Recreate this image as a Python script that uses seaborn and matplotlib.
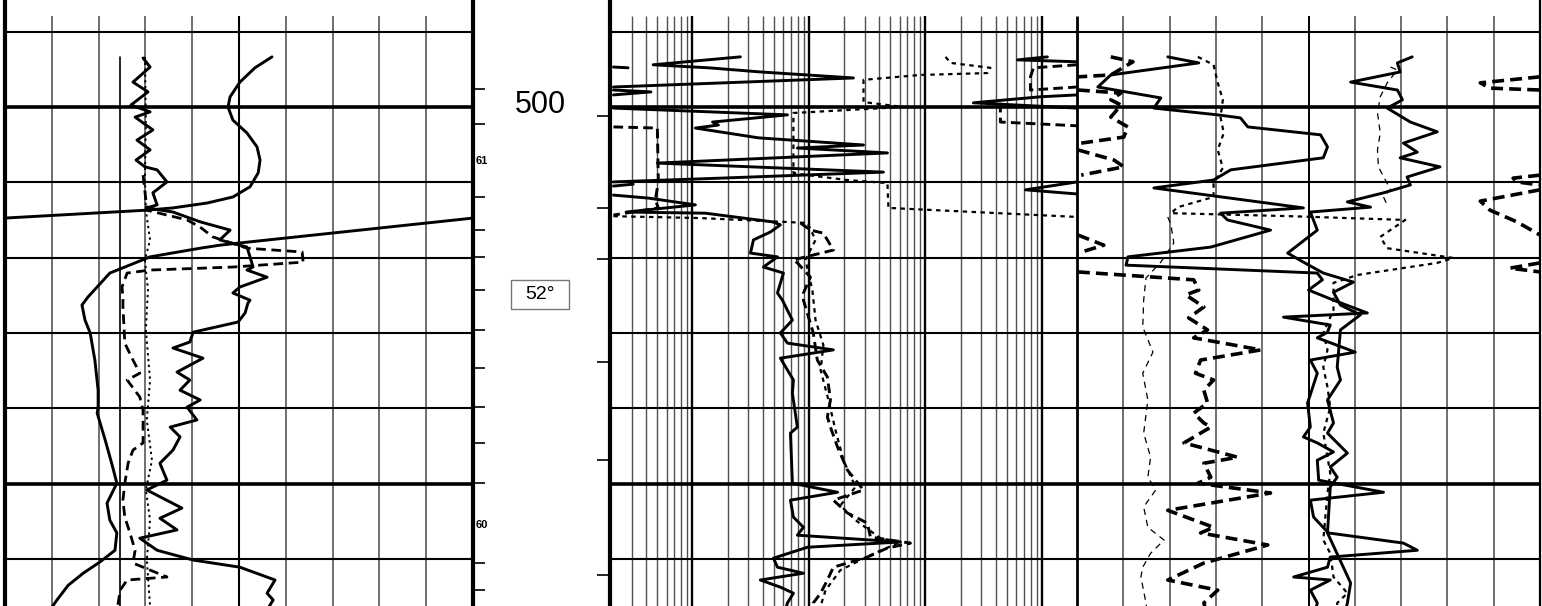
import numpy as np
import pandas as pd
import matplotlib
matplotlib.use("Agg")
import matplotlib.pyplot as plt
import seaborn as sns
from matplotlib.patches import Rectangle

sns.set_theme(style="white")
plt.rcParams["font.family"] = ["Liberation Sans", "DejaVu Sans"]

nan = np.nan

# ---------------- depth frame ----------------
depth_top, depth_bottom = 497.16, 513.25
grid_top = 497.58
grid_depths = [498, 500, 502, 504, 506, 508, 510, 512]
major_depths = [500, 510]
depth_label = "500"
depth_label_at = 499.96
angle_label = "52°"
angle_label_at = 504.98
scale_labels = ["61", "60"]
scale_label_at = [501.43, 511.10]
left_ticks = [499.52, 500.45, 502.39, 503.27, 503.98, 504.86, 505.92, 506.93,
              507.97, 508.92, 509.99, 512.11, 512.83]
right_ticks = [500.24, 502.68, 504.04, 506.77, 509.38, 512.43]

# ---------------- track 1 (linear 0-100) ----------------
t1_res_val = [57.05, 53.4, 50.2, 48.1, 47.65, 48.7, 51.7, 53.85, 54.5, 54.1, 52.35, 48.7, 43.2, 35.9, 30.3, 0.0,
              nan, 100.0, 50.2, 45.9, 41.7, 31.0, 22.4, 17.7, 16.45, 17.1, 18.2, 19.2, 19.9, 19.9, 19.7, 21.4,
              22.9, 23.9, 21.8, 22.4, 23.9, 23.5, 20.3, 16.7, 13.5, 11.1, 9.6]
t1_res_dep = [498.67, 498.96, 499.34, 499.73, 500.0, 500.35, 500.69, 501.06, 501.41, 501.75, 502.12, 502.39, 502.55,
              502.68, 502.74, 502.95, nan, 502.95, 503.61, 503.67, 503.75, 503.98, 504.41, 505.05, 505.26, 505.66,
              506.0, 506.72, 507.52, 507.97, 508.13, 508.84, 509.51, 509.99, 510.52, 510.97, 511.31, 511.77,
              512.08, 512.38, 512.7, 513.09, 513.36]

t1_gr_val = [29.5, 31.0, 27.35, 30.55, 26.9, 31.0, 27.8, 31.6, 28.2, 31.0, 28.0, 29.9, 32.5, 34.6, 31.6, 32.5,
             30.3, 35.9, 41.7, 48.1, 45.9, 51.7, 52.35, 53.0, 51.7, 56.0, 50.2, 48.7, 52.35, 51.9, 51.3, 49.8,
             40.2, 39.5, 35.9, 42.3, 36.75, 39.5, 37.4, 41.7, 38.9, 41.0, 35.3, 37.4, 35.9, 33.1, 34.6, 30.3,
             37.8, 33.1, 36.75, 28.8, 32.5, 40.2, 50.2, 57.7, 56.0, 57.3, 56.2]
t1_gr_dep = [498.70, 498.94, 499.34, 499.60, 499.95, 500.13, 500.27, 500.61, 500.88, 501.14, 501.41, 501.59,
             501.67, 501.99, 502.28, 502.6, 502.68, 502.79, 503.05, 503.27, 503.53, 503.72, 503.98, 504.25,
             504.33, 504.52, 504.78, 504.94, 505.13, 505.21, 505.47, 505.71, 505.98, 506.24, 506.40, 506.67,
             507.04, 507.25, 507.52, 507.78, 507.97, 508.31, 508.5, 508.76, 509.11, 509.46, 509.91, 510.17,
             510.65, 510.92, 511.23, 511.45, 511.77, 512.03, 512.22, 512.56, 512.91, 513.09, 513.31]

t1_dash_val = [29.5, 30.1, 30.3, 38.9, 41.7, 44.4, 51.7, 63.5, 63.7, 48.7, 31.0, 26.1, 25.0, 25.2, 25.2, 25.6,
               27.35, 28.8, 26.1, 28.8, 29.5, 29.5, 27.35, 26.3, 25.6, 25.2, 25.6, 26.7, 27.8, 27.35, 34.6,
               26.1, 24.6, 24.1]
t1_dash_dep = [501.81, 502.47, 502.74, 503.0, 503.19, 503.45, 503.75, 503.85, 504.12, 504.25, 504.33, 504.41,
               504.78, 505.05, 505.31, 506.27, 506.72, 507.07, 507.25, 507.7, 508.05, 508.92, 509.11, 509.46,
               509.99, 510.44, 510.89, 511.31, 511.77, 512.11, 512.48, 512.56, 512.83, 513.25]

t1_dot_val = [29.9, 30.1, 29.9, 30.1, 31.0, 29.9, 30.55, 30.1, 31.0, 30.3, 31.4, 30.1, 31.0, 30.3, 31.0]
t1_dot_dep = [498.67, 500.35, 501.94, 502.74, 503.53, 504.06, 504.86, 505.92, 507.25, 508.31, 509.38, 510.17,
              510.97, 512.03, 513.25]

t1_bit_val = [24.6, 24.6]
t1_bit_dep = [498.67, 513.36]

# ---------------- track 2 (log 0.2-2000) ----------------
t2_deep_val = [0.21, 0.28, nan,
               2.58, 0.46, 1.37, 3.83, 24.1, 0.21, nan,
               0.21, 0.44, 0.21, nan,
               0.21, 6.54, 1.49, 1.67, 1.06, 3.69, 29.4, 7.96, 47.2, 0.50, 43.6, 1.74, 0.21, nan,
               0.31, 0.21, nan,
               0.21, 0.42, 1.06, 0.27, 1.29, 4.86, 5.69, 4.67, 3.34, 3.15, 5.37, 4.07, 6.04, 5.37, 5.92, 7.21,
               5.69, 6.54, 16.2, 5.69, 7.36, 7.21, 7.96, 6.94, 7.21, 17.6, 6.94, 7.36, 8.97, 7.96, 61.0, 9.71,
               4.96, 5.37, 8.97, 3.83, 5.69, 7.36, 6.54, 6.28, nan,
               1114, 617, 2000, nan,
               2000, 971, 258, 2000, nan,
               2000, 724, 2000]
t2_deep_dep = [498.94, 498.96, nan,
               498.67, 498.88, 498.96, 499.07, 499.23, 499.47, nan,
               499.55, 499.60, 499.68, nan,
               500.03, 500.21, 500.40, 500.48, 500.56, 500.82, 501.01, 501.09, 501.22, 501.49, 501.73, 501.89,
               501.99, nan,
               502.05, 502.10, nan,
               502.34, 502.42, 502.60, 502.79, 502.82, 503.05, 503.13, 503.32, 503.53, 503.88, 503.98, 504.25,
               504.41, 504.94, 505.13, 505.66, 506.0, 506.27, 506.45, 506.67, 507.25, 507.60, 508.50, 508.66,
               509.99, 510.23, 510.44, 510.89, 511.16, 511.37, 511.55, 511.69, 511.98, 512.22, 512.38, 512.56,
               512.75, 512.91, 513.17, 513.36, nan,
               498.67, 498.75, 498.80, nan,
               499.68, 499.73, 499.89, 500.03, nan,
               501.99, 502.20, 502.31]

t2_med_val = [2000, 846, 797, 797, 2000, nan,
              440, 440, 2000, nan,
              0.21, 0.50, 0.51, 0.48, 0.51, 0.21, nan,
              8.45, 10.3, 13.3, 16.2, 7.36, 7.96, 10.3, 8.97, 8.97, 10.9, 11.8, 14.4, 15.3, 14.4, 15.3, 17.6,
              21.4, 29.4, 16.2, 21.4, 31.8, 33.7, 74.3, 47.2, 31.8, 16.2, 14.4, 12.6, 10.9, 10.7]
t2_med_dep = [498.88, 498.96, 499.20, 499.55, 499.47, nan,
              499.89, 500.40, 500.50, nan,
              500.53, 500.56, 501.99, 502.47, 502.68, 502.87, nan,
              503.08, 503.27, 503.35, 503.80, 504.06, 504.14, 504.52, 504.94, 505.13, 506.0, 506.72, 507.17,
              507.78, 508.23, 508.50, 509.03, 509.64, 510.17, 510.44, 510.78, 511.05, 511.42, 511.58, 511.71,
              511.95, 512.22, 512.56, 512.91, 513.17, 513.36]

t2_shal_val = [149, 164, 361, 340, 90.6, 29.4, 29.4, 64.7, 7.36, 7.36, 9.71, 21.4, 47.2, 48.1, 2000, nan,
               0.21, 1.17, 9.71, 11.4, 9.33, 10.7, 11.4, 13.3, 12.6, 14.7, 16.9, 19.8, 25.1, 18.6, 25.1, 41.1,
               61.0, 33.7, 18.6, 13.9, 12.6]
t2_shal_dep = [498.67, 498.83, 498.96, 499.10, 499.15, 499.28, 499.87, 500.0, 500.16, 501.75, 501.81, 501.94,
               502.02, 502.68, 502.92, nan,
               502.90, 502.95, 503.08, 503.53, 504.06, 504.86, 505.66, 506.32, 506.99, 507.78, 508.58, 509.38,
               510.09, 510.58, 510.97, 511.45, 511.55, 511.90, 512.30, 512.83, 513.25]

# ---------------- track 3 (linear 0-100) ----------------
t3_a_val = [19.6, 26.3, 7.3, 4.5, 18.1, 16.6, 30.4, 35.3, 36.9, 52.6, 54.1, 53.2, 33.2, 29.5, 16.6, 48.9, 31.0,
            32.5, 41.8, 28.9, 11.0, 10.6, 51.9, 53.0, 50.0, 55.4, 62.7, 44.6, 54.7, 54.1, 51.9, 60.1, 50.4, 51.9,
            49.8, 50.4, 48.9, 51.9, 55.4, 51.9, 52.2, 66.2, 50.4, 51.1, 54.3, 70.5, 73.5, 54.7, 54.1, 46.8, 54.7,
            50.4, 51.9, 51.5]
t3_a_dep = [498.67, 498.83, 499.15, 499.47, 499.76, 500.03, 500.21, 500.29, 500.53, 500.74, 501.06, 501.35,
            501.67, 501.94, 502.15, 502.68, 502.82, 503.0, 503.27, 503.72, 503.98, 504.20, 504.41, 504.59, 504.86,
            505.13, 505.47, 505.58, 505.79, 505.98, 506.13, 506.51, 506.72, 507.07, 507.86, 508.50, 508.76,
            508.92, 509.16, 509.38, 509.91, 510.23, 510.44, 510.89, 511.31, 511.58, 511.77, 511.95, 512.22,
            512.48, 512.56, 512.83, 513.17, 513.36]

t3_b_val = [72.4, 69.2, 69.8, 59.1, 69.2, 70.3, 67.0, 72.0, 77.8, 70.5, 73.5, 69.8, 78.4, 71.3, 72.0, 66.2, 58.4,
            63.4, 50.4, 51.9, 45.5, 48.9, 53.2, 59.7, 55.4, 56.9, 61.2, 56.9, 56.2, 56.9, 54.1, 55.4, 54.1, 58.4,
            54.7, 56.2, 54.7, 54.1, 59.1, 58.4, 58.0]
t3_b_dep = [498.67, 498.83, 499.07, 499.34, 499.55, 499.81, 500.03, 500.40, 500.66, 500.96, 501.20, 501.35,
            501.59, 501.86, 502.07, 502.28, 502.52, 502.66, 502.79, 503.27, 503.88, 504.12, 504.41, 504.65,
            504.92, 505.26, 505.52, 505.92, 506.91, 507.25, 507.78, 508.39, 508.66, 509.19, 509.56, 509.83,
            510.09, 511.31, 512.64, 513.17, 513.36]

t3_thin_val = [67.7, 69.2, 67.0, 65.5, 64.9, 65.5, 64.9, 65.1, 66.6, 67.7, 66.2, 67.2, nan,
               19.6, 20.3, 20.9, 18.1, 14.9, 14.4, 14.2, 16.4, 14.2, 15.3, 14.4, 15.9, 15.3, 17.0, 14.4, 15.3,
               18.8, 15.9, 14.2, 13.8, 14.9, 15.1]
t3_thin_dep = [498.94, 499.02, 499.36, 499.73, 500.16, 500.69, 501.14, 501.59, 501.94, 502.20, 502.39, 502.66, nan,
               502.92, 503.13, 503.61, 504.12, 504.54, 505.13, 505.84, 506.51, 507.07, 507.78, 508.66, 509.30,
               509.83, 510.17, 510.62, 511.16, 511.50, 511.85, 512.22, 512.48, 513.17, 513.36]

t3_dot_val = [26.1, 29.5, 30.4, 31.5, 31.0, 31.7, 30.4, 31.5, 29.5, 29.5, 21.8, 20.3, 46.1, 70.9, 65.5, 67.0,
              81.3, 77.8, 60.6, 55.4, 55.4, 53.2, 54.1, 53.2, 54.1, 54.7, 53.2, 54.7, 54.1, 53.2, 54.7, 55.4,
              58.4, 56.2, 56.2]
t3_dot_dep = [498.67, 498.88, 499.36, 499.81, 500.27, 500.69, 501.14, 501.62, 502.02, 502.39, 502.66, 502.82,
              502.90, 503.0, 503.45, 503.75, 504.01, 504.14, 504.46, 504.67, 505.39, 506.0, 506.45, 506.91,
              507.44, 507.97, 508.66, 509.72, 510.25, 511.50, 511.85, 512.48, 512.91, 513.17, 513.36]

t3_heavy_val = [7.3, 12.1, 7.3, 0.2, nan,
                0.2, 9.5, 7.3, 9.5, 7.3, 11.0, 10.1, 0.9, nan,
                0.2, 8.0, 10.1, 0.9, nan,
                0.2, 5.8, 0.2, nan,
                0.2, 25.2, 26.3, 23.5, 27.4, 24.1, 28.2, 25.2, 39.7, 26.7, 25.6, 29.5, 27.4, 28.2, 25.2, 27.4,
                28.9, 23.1, 34.7, 27.4, 28.9, 26.1, 41.8, 19.6, 29.5, 26.7, 41.2, 27.4, 19.6, 30.4, 27.4, 27.8, nan,
                100, 87.1, 89.2, 100, nan,
                100, 94.2, 95.0, 100, nan,
                100, 87.1, 89.2, 95.0, 100, nan,
                100, 93.5, 100]
t3_heavy_dep = [498.67, 498.80, 499.15, 499.20, nan,
                499.55, 499.63, 499.81, 499.95, 500.27, 500.53, 500.80, 500.96, nan,
                501.14, 501.41, 501.59, 501.81, nan,
                503.40, 503.67, 503.88, nan,
                504.38, 504.59, 504.86, 504.99, 505.31, 505.60, 505.92, 506.13, 506.45, 506.72, 507.07, 507.25,
                507.52, 507.86, 508.13, 508.39, 508.50, 508.92, 509.30, 509.46, 509.83, 509.99, 510.25, 510.71,
                511.16, 511.31, 511.63, 512.11, 512.56, 512.83, 513.17, 513.36, nan,
                499.20, 499.36, 499.50, 499.55, nan,
                501.81, 501.89, 501.99, 502.07, nan,
                502.20, 502.50, 502.74, 503.05, 503.40, nan,
                504.14, 504.28, 504.38]

# ---------------- figure ----------------
W, H = 1542, 606
fig = plt.figure(figsize=(W / 100, H / 100), dpi=100)
fig.patch.set_facecolor("white")


def add_ax(x0, x1):
    ax = fig.add_axes([x0 / W, 0, (x1 - x0) / W, 1])
    ax.set_axis_off()
    return ax


ax1 = add_ax(5, 473)
axd = add_ax(473, 610)
ax2 = add_ax(611, 1077)
ax3 = add_ax(1077, 1540)
ax2.set_xscale("log")

K = "black"
GRAY = "#505050"


def curve(ax, vals, deps, lw, ls="-"):
    df = pd.DataFrame({"v": vals, "d": deps})
    df["seg"] = df["v"].isna().cumsum()
    df = df.dropna()
    sns.lineplot(data=df, x="v", y="d", units="seg", estimator=None, sort=False,
                 ax=ax, color=K, linewidth=lw, linestyle=ls, legend=False, zorder=5)


def hgrid(ax, x0, x1):
    for d in grid_depths:
        ax.hlines(d, x0, x1, color=K, lw=2.6 if d in major_depths else 1.5, zorder=2)


# track 1 grid
for v in range(10, 100, 10):
    ax1.vlines(v, grid_top, depth_bottom, color=K if v == 50 else GRAY,
               lw=1.5 if v == 50 else 1.15, zorder=1)
hgrid(ax1, 0, 100)
ax1.axvline(0, color=K, lw=3.0, clip_on=False)
ax1.axvline(100, color=K, lw=3.0, clip_on=False)

# track 2 grid (log)
for dec in [0.1, 1, 10, 100, 1000]:
    for k in range(1, 10):
        v = k * dec
        if v <= 0.2 or v >= 2000:
            continue
        ax2.vlines(v, grid_top, depth_bottom, color=K if k == 1 else GRAY,
                   lw=1.7 if k == 1 else 1.0, zorder=1)
hgrid(ax2, 0.2, 2000)
ax2.vlines(2000, grid_top, depth_bottom, color=K, lw=2.0, clip_on=False, zorder=3)

# track 3 grid
for v in range(10, 100, 10):
    ax3.vlines(v, grid_top, depth_bottom, color=K if v == 50 else GRAY,
               lw=1.4 if v == 50 else 1.15, zorder=1)
hgrid(ax3, 0, 100)
ax3.axvline(100, color=K, lw=1.6, clip_on=False)

# depth track
axd.set_xlim(0, 1)
axd.axvline(1, color=K, lw=3.0, clip_on=False)
axd.hlines(left_ticks, 0, 0.088, color=K, lw=1.2)
axd.hlines(right_ticks, 0.905, 1.0, color=K, lw=1.2)
axd.text(0.489, depth_label_at, depth_label, ha="center", va="center", fontsize=22, color=K)
axd.add_patch(Rectangle((0.277, 504.59), 0.424, 0.78, fill=False, edgecolor="#777777", lw=1.0))
axd.text(0.489, angle_label_at, angle_label, ha="center", va="center", fontsize=14, color=K)
for lab, d in zip(scale_labels, scale_label_at):
    axd.text(0.018, d, lab, ha="left", va="center", fontsize=8, fontweight="bold", color=K)

# curves
curve(ax1, t1_bit_val, t1_bit_dep, 1.2)
curve(ax1, t1_dot_val, t1_dot_dep, 1.4, (0, (1.2, 1.8)))
curve(ax1, t1_dash_val, t1_dash_dep, 2.0, (0, (3.5, 2.0)))
curve(ax1, t1_res_val, t1_res_dep, 2.1)
curve(ax1, t1_gr_val, t1_gr_dep, 2.1)

curve(ax2, t2_shal_val, t2_shal_dep, 1.6, (0, (2.0, 2.0)))
curve(ax2, t2_med_val, t2_med_dep, 2.1, (0, (3.3, 1.8)))
curve(ax2, t2_deep_val, t2_deep_dep, 2.1)

curve(ax3, t3_thin_val, t3_thin_dep, 0.9, (0, (5, 4)))
curve(ax3, t3_dot_val, t3_dot_dep, 1.6, (0, (2.0, 2.0)))
curve(ax3, t3_heavy_val, t3_heavy_dep, 2.6, (0, (3.3, 1.7)))
curve(ax3, t3_a_val, t3_a_dep, 2.1)
curve(ax3, t3_b_val, t3_b_dep, 2.1)

for ax in (ax1, ax3):
    ax.set_xlim(0, 100)
ax2.set_xlim(0.2, 2000)
for ax in (ax1, axd, ax2, ax3):
    ax.set_ylim(depth_bottom, depth_top)
    ax.set_xlabel("")
    ax.set_ylabel("")

fig.savefig("out.png", dpi=100, facecolor="white")
